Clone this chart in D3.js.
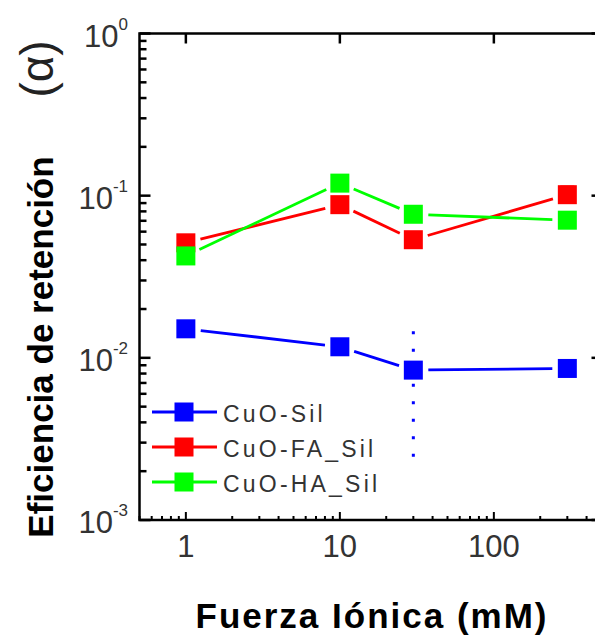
<!DOCTYPE html>
<html><head><meta charset="utf-8">
<script src="https://cdn.jsdelivr.net/npm/d3@7"></script>
<style>html,body{margin:0;padding:0;background:#fff}svg{display:block}</style>
</head><body>
<svg id="chart" width="595" height="639"></svg>
<script>
// ---- data ----
const ionic = [1, 10, 30, 300];
const cuoSil = [0.0151, 0.0117, 0.0084, 0.0086];
const cuoFA = [0.0512, 0.0880, 0.0535, 0.1014];
const cuoHA = [0.0425, 0.1195, 0.0768, 0.0706];
const seriesNames = ["CuO-Sil", "CuO-FA_Sil", "CuO-HA_Sil"];
const seriesColors = ["#0000ff", "#ff0000", "#00ff00"];
// error bars: [series index, x, low, high]
const errSeries = [0, 1];
const errX = [30, 300];
const errLow = [0.00213, 0.092];
const errHigh = [0.0146, 0.113];
const xTickValues = [1, 10, 100];
const xTickLabels = ["1", "10", "100"];
const yTickValues = [1e-3, 1e-2, 1e-1, 1];
const yTickExps = ["-3", "-2", "-1", "0"];

const svg = d3.select("#chart");
const L = 139.5, R = 601.5, T = 33.5, B = 520;
const x = d3.scaleLog().domain([0.5, 500]).range([L, R]);
const y = d3.scaleLog().domain([1e-3, 1]).range([B, T]);
const isMajor = v => Math.abs(Math.log10(v) - Math.round(Math.log10(v))) < 1e-9;

const g = svg.append("g");

// ---- error bars (behind) ----
errSeries.forEach((si, i) => {
  const cx = x(errX[i]);
  if (si === 0) {
    g.append("line").attr("x1", cx).attr("x2", cx)
      .attr("y1", y(errHigh[i])).attr("y2", y(errLow[i]))
      .attr("stroke", seriesColors[si]).attr("stroke-width", 3)
      .attr("stroke-dasharray", "3,14.5");
  } else {
    const eg = g.append("g").attr("stroke", seriesColors[si]).attr("stroke-width", 3);
    eg.append("line").attr("x1", cx).attr("x2", cx).attr("y1", y(errHigh[i])).attr("y2", y(errLow[i]));
    eg.append("line").attr("x1", cx - 7).attr("x2", cx + 7).attr("y1", y(errHigh[i])).attr("y2", y(errHigh[i]));
    eg.append("line").attr("x1", cx - 7).attr("x2", cx + 7).attr("y1", y(errLow[i])).attr("y2", y(errLow[i]));
  }
});

// ---- series ----
const allSeries = [cuoSil, cuoFA, cuoHA];
const gap = 15, ms = 19;
allSeries.forEach((vals, si) => {
  const pts = ionic.map((xv, i) => [x(xv), y(vals[i])]);
  const sg = g.append("g");
  for (let i = 0; i < pts.length - 1; i++) {
    const [x1, y1] = pts[i], [x2, y2] = pts[i + 1];
    const dx = x2 - x1, dy = y2 - y1, len = Math.hypot(dx, dy);
    const ux = dx / len, uy = dy / len;
    sg.append("line")
      .attr("x1", x1 + ux * gap).attr("y1", y1 + uy * gap)
      .attr("x2", x2 - ux * gap).attr("y2", y2 - uy * gap)
      .attr("stroke", seriesColors[si]).attr("stroke-width", 2.8);
  }
  sg.selectAll("rect").data(pts).join("rect")
    .attr("x", d => d[0] - ms / 2).attr("y", d => d[1] - ms / 2)
    .attr("width", ms).attr("height", ms)
    .attr("fill", seriesColors[si]);
});

// ---- axes frame ----
const ax = svg.append("g").attr("stroke", "#000").attr("fill", "none");
ax.append("rect").attr("x", L).attr("y", T).attr("width", R - L).attr("height", B - T)
  .attr("stroke-width", 2.5);

const xt = x.ticks();
xt.forEach(v => {
  const px = x(v), len = isMajor(v) ? 8 : 4;
  ax.append("line").attr("x1", px).attr("x2", px).attr("y1", B).attr("y2", B - len).attr("stroke-width", 2);
});
xTickValues.forEach(v => {
  ax.append("line").attr("x1", x(v)).attr("x2", x(v)).attr("y1", T).attr("y2", T + 10).attr("stroke-width", 2.5);
});
const yt = y.ticks();
yt.forEach(v => {
  const py = y(v), len = isMajor(v) ? 11 : 7;
  ax.append("line").attr("x1", L).attr("x2", L + len).attr("y1", py).attr("y2", py).attr("stroke-width", 2.5);
});
yTickValues.forEach(v => {
  ax.append("line").attr("x1", R).attr("x2", R - 10).attr("y1", y(v)).attr("y2", y(v)).attr("stroke-width", 2.5);
});

// ---- tick labels ----
const font = "'Liberation Sans', Arial, sans-serif";
xTickValues.forEach((v, i) => {
  svg.append("text").attr("x", x(v)).attr("y", 557).attr("text-anchor", "middle")
    .attr("font-family", font).attr("font-size", 31).attr("fill", "#333").text(xTickLabels[i]);
});
yTickValues.forEach((v, i) => {
  const t = svg.append("text").attr("x", 128).attr("y", y(v) + 13).attr("text-anchor", "end")
    .attr("font-family", font).attr("font-size", 31).attr("fill", "#333");
  t.append("tspan").text("10");
  t.append("tspan").attr("dy", -17).attr("font-size", 17).text(yTickExps[i]);
});

// ---- legend ----
const legY = [412, 447, 482];
seriesNames.forEach((n, i) => {
  svg.append("line").attr("x1", 152).attr("x2", 217).attr("y1", legY[i]).attr("y2", legY[i])
    .attr("stroke", seriesColors[i]).attr("stroke-width", 3);
  svg.append("rect").attr("x", 184 - ms / 2).attr("y", legY[i] - ms / 2).attr("width", ms).attr("height", ms)
    .attr("fill", seriesColors[i]);
  svg.append("text").attr("x", 223).attr("y", legY[i] + 10)
    .attr("font-family", font).attr("font-size", 23).attr("letter-spacing", 3.2)
    .attr("fill", "#333").text(n);
});

// ---- axis titles ----
svg.append("text").attr("x", 372).attr("y", 628).attr("text-anchor", "middle")
  .attr("font-family", font).attr("font-size", 35).attr("font-weight", "bold")
  .attr("letter-spacing", 2).attr("fill", "#000").text("Fuerza Iónica (mM)");
svg.append("text").attr("transform", "translate(53,347) rotate(-90)").attr("text-anchor", "middle")
  .attr("font-family", font).attr("font-size", 35).attr("font-weight", "bold")
  .attr("fill", "#000").text("Eficiencia de retención");
svg.append("text").attr("transform", "translate(53,69) rotate(-90)").attr("text-anchor", "middle")
  .attr("font-family", font).attr("font-size", 46)
  .attr("fill", "#222").text("(α)");
</script>
</body></html>
